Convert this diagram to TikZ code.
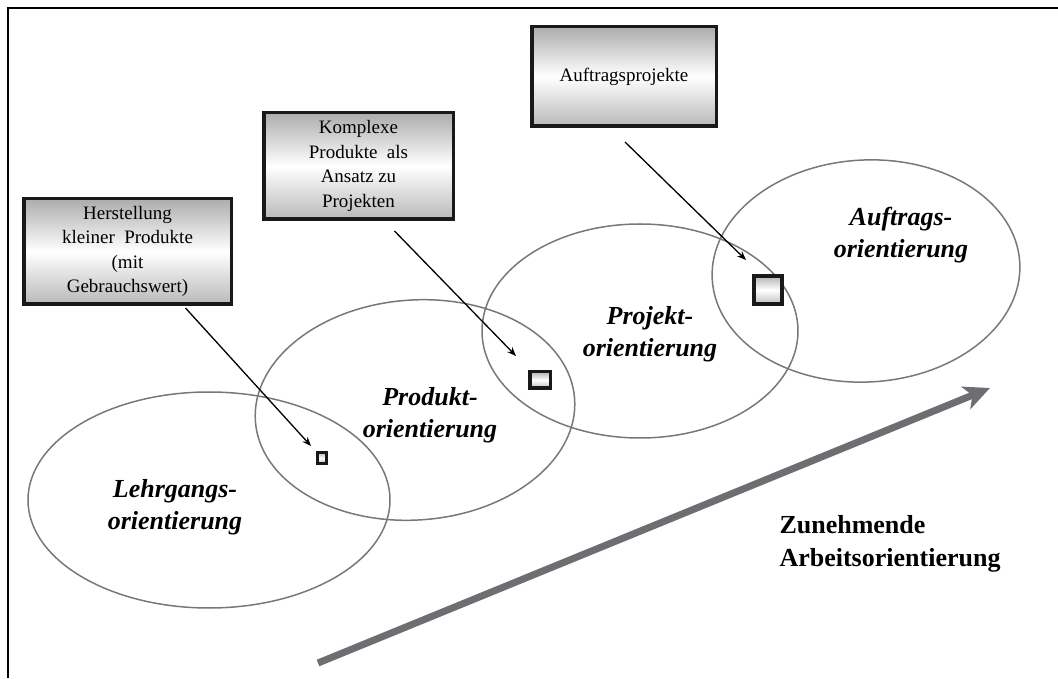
\documentclass[tikz,border=0pt]{standalone}
\usepackage{fontspec}
\setmainfont{Liberation Serif}
\usetikzlibrary{shapes.geometric,arrows.meta}
\definecolor{ringgray}{RGB}{120,120,122}
\definecolor{arrowgray}{RGB}{109,110,113}
\begin{document}
\begin{tikzpicture}[x=1pt,y=1pt,
  ring/.style={ellipse,draw=ringgray,line width=1.5pt,inner sep=0pt},
  ringlabel/.style={align=center,font=\fontsize{26}{32}\selectfont\bfseries\itshape},
  taskbox/.style={rectangle,draw=black!90,line width=3.5pt,inner sep=0pt,align=center,
    top color=gray!65,bottom color=gray!55,middle color=white,
    font=\fontsize{19}{24.5}\selectfont},
  marker/.style={rectangle,draw=black!90,inner sep=0pt,
    top color=gray!60,bottom color=gray!50,middle color=white},
  pointer/.style={line width=1.3pt,-{Stealth[length=9pt,width=7pt]}}]
  \useasboundingbox (0,0) rectangle (1058,678);
  \draw[line width=1.5pt] (8,0) -- (8,670) -- (1058,670);
  \node[ring,minimum width=362pt,minimum height=216pt] (lehrgang) at (209,178) {};
  \node[ring,minimum width=320pt,minimum height=220pt,rotate=4] (produkt) at (415,268) {};
  \node[ring,minimum width=316pt,minimum height=214pt] (projekt) at (640,347) {};
  \node[ring,minimum width=308pt,minimum height=222pt,rotate=3] (auftrag) at (866,407) {};
  \node[ringlabel] (lehrgangtxt) at (175,171) {Lehrgangs-\\orientierung};
  \node[ringlabel] (produkttxt) at (430,263) {Produkt-\\orientierung};
  \node[ringlabel] (projekttxt) at (650,344) {Projekt-\\orientierung};
  \node[ringlabel] (auftragtxt) at (901,443) {Auftrags-\\orientierung};
  \node[taskbox,minimum width=207.5pt,minimum height=105.5pt] (kleinbox) at (127.5,426.5)
    {Herstellung\\kleiner\ \ Produkte\\(mit\\Gebrauchswert)};
  \node[taskbox,minimum width=189.5pt,minimum height=106.5pt] (komplexbox) at (358.5,512)
    {Komplexe\\Produkte\ \ als\\Ansatz\ zu\\Projekten};
  \node[taskbox,minimum width=184.5pt,minimum height=99.5pt] (auftragbox) at (624,601.5)
    {Auftragsprojekte};
  \node[marker,line width=3pt,minimum width=9pt,minimum height=11pt] (kleinmark) at (322,220) {};
  \node[marker,line width=3.5pt,minimum width=20.5pt,minimum height=16.5pt] (komplexmark) at (540,298) {};
  \node[marker,line width=4pt,minimum width=28pt,minimum height=28pt] (auftragmark) at (768,388) {};
  \draw[pointer] ([shift={(58,-2)}]kleinbox.south) -- ([shift={(-5,5)}]kleinmark.north west);
  \draw[pointer] ([shift={(36,-10)}]komplexbox.south) -- ([shift={(-12,14)}]komplexmark.north west);
  \draw[pointer] ([shift={(1,-14)}]auftragbox.south) -- ([shift={(-6,14)}]auftragmark.north west);
  \coordinate (trendstart) at (318,15);
  \coordinate (trendend) at (990,290);
  \draw[arrowgray,line width=7pt,-{Stealth[length=26pt,width=24pt,inset=7pt]}] (trendstart) -- (trendend);
  \node[anchor=west,align=left,font=\fontsize{26}{33}\selectfont\bfseries] (trendtxt) at (776,134.5)
    {Zunehmende\\Arbeitsorientierung};
\end{tikzpicture}
\end{document}
